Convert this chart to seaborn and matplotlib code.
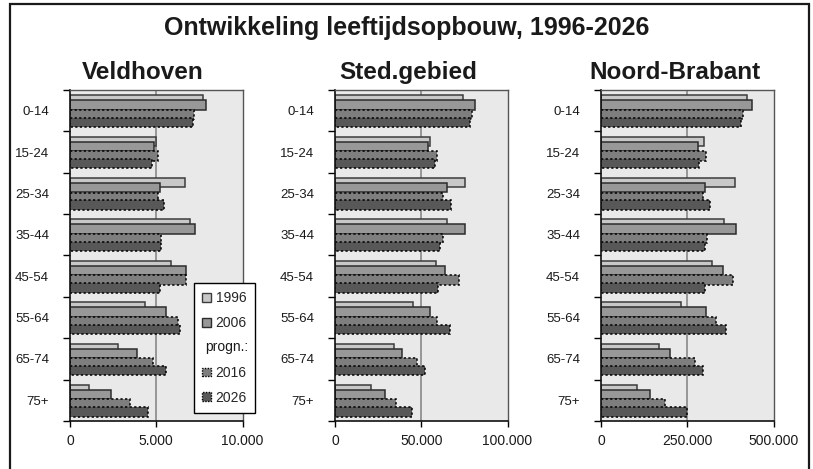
import numpy as np
import pandas as pd
import matplotlib
matplotlib.use("Agg")
import matplotlib.pyplot as plt
import seaborn as sns
from matplotlib.patches import Patch, Rectangle
from matplotlib.ticker import FuncFormatter

ages = ["0-14", "15-24", "25-34", "35-44", "45-54", "55-64", "65-74", "75+"]
years = ["1996", "2006", "2016", "2026"]

# Veldhoven
veld_1996 = [7700, 5000, 6670, 6950, 5860, 4320, 2790, 1110]
veld_2006 = [7880, 4880, 5210, 7220, 6740, 5570, 3900, 2360]
veld_2016 = [7200, 5130, 5090, 5300, 6700, 6280, 4840, 3480]
veld_2026 = [7150, 4780, 5440, 5250, 5190, 6400, 5570, 4510]

# stedelijk gebied
sted_1996 = [74400, 55000, 75400, 64900, 58700, 45300, 34000, 20800]
sted_2006 = [81000, 54200, 64900, 75400, 63500, 55000, 38800, 29100]
sted_2016 = [79400, 59100, 62500, 62700, 71900, 59300, 47800, 35500]
sted_2026 = [78100, 57900, 67200, 60800, 59600, 66400, 52000, 44900]

# Noord-Brabant
nb_1996 = [423000, 298000, 388000, 357000, 322000, 231000, 168000, 104000]
nb_2006 = [437000, 282000, 301000, 392000, 353000, 304000, 199000, 143000]
nb_2016 = [412000, 303000, 296000, 306000, 384000, 334000, 272000, 185000]
nb_2026 = [406000, 284000, 316000, 301000, 300000, 363000, 296000, 250000]

regions = ["Veldhoven", "Sted.gebied", "Noord-Brabant"]
region_data = [
    [veld_1996, veld_2006, veld_2016, veld_2026],
    [sted_1996, sted_2006, sted_2016, sted_2026],
    [nb_1996, nb_2006, nb_2016, nb_2026],
]
x_max = [10000, 100000, 500000]

sns.set_theme(style="white")
plt.rcParams["font.family"] = ["Liberation Sans", "DejaVu Sans"]

fills = {"1996": "#c8c8c8", "2006": "#989898", "2016": "#7e7e7e", "2026": "#585858"}
edges = {"1996": "#3c3c3c", "2006": "#2c2c2c", "2016": "#000000", "2026": "#000000"}
dots = (0, (1.5, 1.5))
styles = {"1996": "-", "2006": "-", "2016": dots, "2026": dots}
# top of each bar inside its category band (fraction of band)
tops = {"1996": 0.128, "2006": 0.249, "2016": 0.478, "2026": 0.669}
bar_h = 0.228

W, H = 813, 469
fig = plt.figure(figsize=(W / 100, H / 100), dpi=100)
fig.patch.set_facecolor("white")

ax_left = [70, 335, 601]
title_x = [143, 408, 675]
dutch = FuncFormatter(lambda v, p: f"{v:,.0f}".replace(",", "."))

for k, region in enumerate(regions):
    ax = fig.add_axes([ax_left[k] / W, 48 / H, 172.5 / W, 331 / H])
    ax.set_facecolor("#e9e9e9")
    df = pd.DataFrame({"leeftijd": ages})
    for j, yr in enumerate(years):
        df[yr] = region_data[k][j]
        sns.barplot(data=df, x=yr, y="leeftijd", orient="h", color=fills[yr],
                    saturation=1, width=bar_h, edgecolor=edges[yr],
                    linewidth=1.1, linestyle=styles[yr], errorbar=None, ax=ax)
        for p in ax.patches[-len(ages):]:
            p.set_y(p.get_y() + bar_h / 2 - 0.5 + tops[yr])

    ax.set_xlim(0, x_max[k])
    ax.set_ylim(len(ages) - 0.5, -0.5)
    ax.axvline(x_max[k] / 2, color="#808080", lw=1.1, zorder=0.5)
    ax.set_xticks([0, x_max[k] / 2, x_max[k]])
    ax.xaxis.set_major_formatter(dutch)
    ax.set_yticks(np.arange(-0.5, len(ages), 1.0))
    ax.set_yticklabels([])
    ax.set_yticks(np.arange(len(ages)), minor=True)
    ax.set_yticklabels(ages, minor=True)
    ax.tick_params(axis="y", which="major", left=True, length=5, width=1,
                   color="black", direction="out")
    ax.tick_params(axis="y", which="minor", left=True, length=0, pad=15,
                   labelsize=9.5, labelcolor="#1a1a1a")
    ax.tick_params(axis="x", bottom=True, length=4, width=1, color="black",
                   direction="out", pad=5, labelsize=10, labelcolor="#1a1a1a")
    ax.set_xlabel("")
    ax.set_ylabel("")
    for s in ["left", "bottom"]:
        ax.spines[s].set_color("#111111")
        ax.spines[s].set_linewidth(1.2)
    for s in ["top", "right"]:
        ax.spines[s].set_color("#555555")
        ax.spines[s].set_linewidth(1.0)
    fig.text(title_x[k] / W, 1 - 78.5 / H, region, ha="center", va="baseline",
             fontsize=17.5, fontweight="bold", color="#1a1a1a")

fig.text(0.5, 1 - 35 / H, "Ontwikkeling leeftijdsopbouw, 1996-2026", ha="center",
         va="baseline", fontsize=18, fontweight="bold", color="#1a1a1a")

handles = [
    Patch(facecolor=fills["1996"], edgecolor=edges["1996"], lw=1),
    Patch(facecolor=fills["2006"], edgecolor=edges["2006"], lw=1),
    Patch(facecolor="none", edgecolor="none"),
    Patch(facecolor=fills["2016"], edgecolor="black", lw=1, ls=(0, (1, 1))),
    Patch(facecolor=fills["2026"], edgecolor="black", lw=1, ls=(0, (1, 1))),
]
leg = fig.legend(handles, ["1996", "2006", " ", "2016", "2026"], loc="upper left",
                 bbox_to_anchor=(194 / W, 1 - 283 / H), frameon=True, fancybox=False,
                 edgecolor="black", facecolor="white", framealpha=1, fontsize=10,
                 handlelength=0.6, handleheight=0.6, handletextpad=0.35,
                 labelspacing=0.78, borderpad=0.6, borderaxespad=0)
leg.get_frame().set_linewidth(1.0)
fig.text(205 / W, 1 - 347 / H, "progn.:", ha="left", va="center", fontsize=10,
         color="#1a1a1a", zorder=10)

fig.add_artist(Rectangle((10.3 / W, -0.05), (808.7 - 10.3) / W, 1.05 - 4.3 / H,
                         transform=fig.transFigure, fill=False, lw=1.6,
                         edgecolor="#1a1a1a"))

fig.savefig("out.png", dpi=100)
